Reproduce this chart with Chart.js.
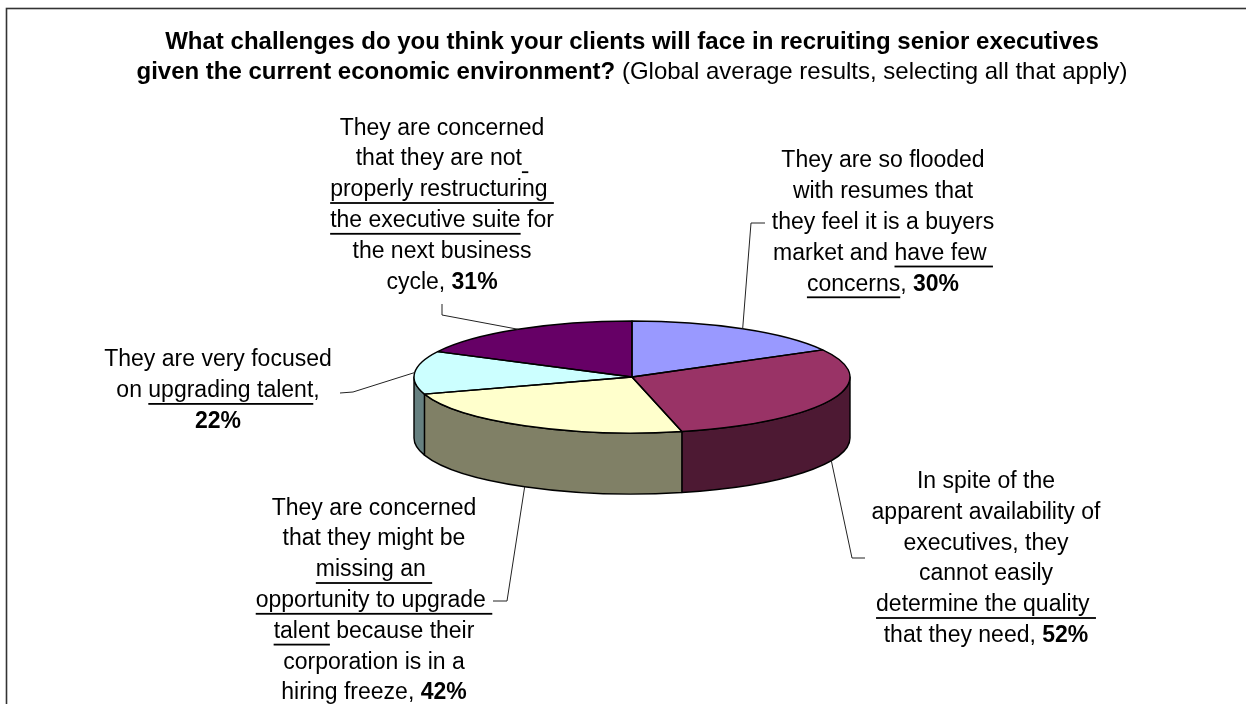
<!DOCTYPE html>
<html>
<head>
<meta charset="utf-8">
<title>Recruiting challenges</title>
<script src="https://cdn.jsdelivr.net/npm/chart.js@4.4.1/dist/chart.umd.min.js"></script>
<style>
  html, body { margin: 0; padding: 0; background: #fff; }
  canvas { display: block; }
</style>
</head>
<body>
<canvas id="grafico" width="1246" height="704"></canvas>
<script>
// answers, clockwise from twelve o'clock
const categories = [
    "Flooded with resumes, few concerns",
    "Cannot easily determine quality",
    "Missing an opportunity to upgrade talent",
    "Upgrading talent",
    "Not properly restructuring the executive suite"
];
const shares = [30, 52, 42, 22, 31];

// callout wording: _..._ is underlined, {v} is the share in bold
const calloutText = [
    ["They are so flooded", "with resumes that", "they feel it is a buyers", "market and _have few _", "_concerns_, {v}"],
    ["In spite of the", "apparent availability of", "executives, they", "cannot easily", "_determine the quality _", "that they need, {v}"],
    ["They are concerned", "that they might be", "_missing an _", "_opportunity to upgrade _", "_talent_ because their", "corporation is in a", "hiring freeze, {v}"],
    ["They are very focused", "on _upgrading talent_,", "{v}"],
    ["They are concerned", "that they are not_ _", "_properly restructuring _", "_the executive suite_ for", "the next business", "cycle, {v}"]
];

const titleLine1 = "What challenges do you think your clients will face in recruiting senior executives";
const titleLine2 = "given the current economic environment?";
const titleNote = " (Global average results, selecting all that apply)";

const topColors = ["#9999FF", "#993366", "#FFFFCC", "#CCFFFF", "#660066"];
const sideColors = ["#4D4D80", "#4D1933", "#808066", "#668080", "#330033"];

const FONT = "'Liberation Sans', Arial, sans-serif";
const TILT = 56 / 218;
const DEPTH = 61;
const LINE_H = 30.8;

// callout blocks: centre x, first line y, and the bent end of the leader
const callouts = [
    { x: 883, y: 161, elbow: [[765, 223], [751, 223]] },
    { x: 986, y: 481.7, elbow: [[865, 558], [852, 558]] },
    { x: 374, y: 508.3, elbow: [[493, 601], [507, 601]] },
    { x: 218, y: 360, elbow: [[340, 393], [353, 392]] },
    { x: 442, y: 128.3, elbow: [[442, 304], [442, 315]] }
];

function parseLine(line, value) {
    const segs = [];
    line.split("_").forEach((part, i) => {
        part.split("{v}").forEach((piece, j) => {
            if (j > 0) segs.push({ t: value + "%", bold: true, under: i % 2 === 1 });
            if (piece) segs.push({ t: piece, bold: false, under: i % 2 === 1 });
        });
    });
    return segs;
}

function drawRich(ctx, segs, cx, y, size) {
    let total = 0;
    segs.forEach(s => {
        ctx.font = (s.bold ? "bold " : "") + size + "px " + FONT;
        s.w = ctx.measureText(s.t).width;
        total += s.w;
    });
    let x = cx - total / 2;
    ctx.textBaseline = "middle";
    ctx.textAlign = "left";
    ctx.fillStyle = "#000";
    segs.forEach(s => {
        ctx.font = (s.bold ? "bold " : "") + size + "px " + FONT;
        ctx.fillText(s.t, x, y);
        if (s.under) ctx.fillRect(x, y + 12.2, s.w, 1.8);
        x += s.w;
    });
}

const pie3d = {
    id: "pie3d",
    beforeDatasetsDraw(chart) {
        const ctx = chart.ctx;
        const arcs = chart.getDatasetMeta(0).data;
        const { x: cx, y: cy, outerRadius: r } = arcs[0];
        const ry = r * TILT;

        // side walls, front half only
        ctx.save();
        ctx.lineWidth = 1.4;
        ctx.strokeStyle = "#000";
        ctx.lineJoin = "round";
        arcs.forEach((arc, i) => {
            const s = Math.max(arc.startAngle, 0);
            const e = Math.min(arc.endAngle, Math.PI);
            if (s >= e) return;
            ctx.beginPath();
            ctx.ellipse(cx, cy, r, ry, 0, s, e);
            ctx.lineTo(cx + r * Math.cos(e), cy + ry * Math.sin(e) + DEPTH);
            ctx.ellipse(cx, cy + DEPTH, r, ry, 0, e, s, true);
            ctx.closePath();
            ctx.fillStyle = sideColors[i];
            ctx.fill();
            ctx.stroke();
        });
        ctx.restore();

        // squash the top faces into an ellipse
        ctx.save();
        ctx.translate(0, cy);
        ctx.scale(1, TILT);
        ctx.translate(0, -cy);
    },
    afterDatasetsDraw(chart) {
        const ctx = chart.ctx;
        ctx.restore();
        const arcs = chart.getDatasetMeta(0).data;
        const { x: cx, y: cy, outerRadius: r } = arcs[0];
        const ry = r * TILT;

        ctx.save();
        ctx.lineWidth = 1.4;
        ctx.strokeStyle = "#000";
        ctx.lineJoin = "round";
        arcs.forEach(arc => {
            ctx.beginPath();
            ctx.moveTo(cx, cy);
            ctx.lineTo(cx + r * Math.cos(arc.startAngle), cy + ry * Math.sin(arc.startAngle));
            ctx.ellipse(cx, cy, r, ry, 0, arc.startAngle, arc.endAngle);
            ctx.closePath();
            ctx.stroke();
        });

        // leader lines to each slice
        ctx.lineWidth = 1;
        ctx.strokeStyle = "#222";
        arcs.forEach((arc, i) => {
            const m = (arc.startAngle + arc.endAngle) / 2;
            let ax = cx + r * Math.cos(m);
            let ay = cy + ry * Math.sin(m);
            if (Math.sin(m) > 0) ay += DEPTH;
            const el = callouts[i].elbow;
            ctx.beginPath();
            ctx.moveTo(el[0][0], el[0][1]);
            ctx.lineTo(el[1][0], el[1][1]);
            ctx.lineTo(ax, ay);
            ctx.stroke();
        });
        ctx.restore();
    },
    afterDraw(chart) {
        const ctx = chart.ctx;
        ctx.save();

        // frame
        ctx.strokeStyle = "#333";
        ctx.lineWidth = 1.6;
        ctx.strokeRect(6.5, 8.5, 1400, 900);

        // title
        drawRich(ctx, [{ t: titleLine1, bold: true }], 632, 42.5, 24);
        drawRich(ctx, [{ t: titleLine2, bold: true }, { t: titleNote, bold: false }], 632, 72, 24);

        // callouts
        chart.data.datasets[0].data.forEach((v, i) => {
            const c = callouts[i];
            calloutText[i].forEach((line, k) => {
                drawRich(ctx, parseLine(line, v), c.x, c.y + k * LINE_H, 23);
            });
        });
        ctx.restore();
    }
};

const ctx = document.getElementById("grafico").getContext("2d");
ctx.fillStyle = "#fff";
ctx.fillRect(0, 0, 1246, 704);

const grafico = new Chart(ctx, {
    type: "pie",
    data: {
        labels: categories,
        datasets: [{
            data: shares,
            backgroundColor: topColors,
            borderWidth: 0,
            hoverBorderWidth: 0,
            hoverOffset: 0
        }]
    },
    options: {
        responsive: false,
        devicePixelRatio: 1,
        animation: false,
        events: [],
        layout: {
            padding: { left: 414, right: 396, top: 159, bottom: 109 }
        },
        plugins: {
            legend: { display: false },
            tooltip: { enabled: false }
        }
    },
    plugins: [pie3d]
});
</script>
</body>
</html>
